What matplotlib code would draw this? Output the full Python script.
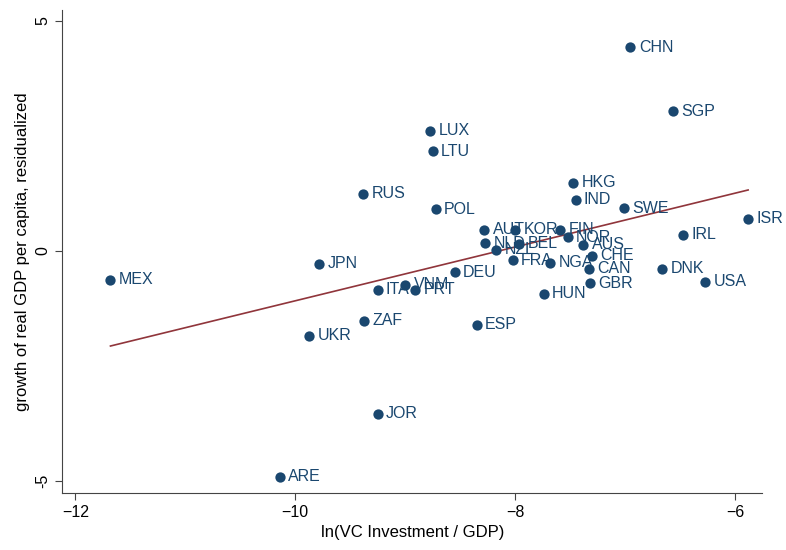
import numpy as np
import matplotlib
matplotlib.use("Agg")
import matplotlib.pyplot as plt

# country codes, ln(VC/GDP), residualized growth
countries = ["CHN", "SGP", "LUX", "LTU", "RUS", "POL", "HKG", "IND", "SWE", "ISR",
             "IRL", "MEX", "JPN", "DEU", "ITA", "VNM", "PRT", "ZAF", "UKR", "ESP",
             "JOR", "ARE", "HUN", "GBR", "CAN", "CHE", "AUS", "NOR", "FIN", "DNK",
             "USA", "AUT", "NLD", "NZL", "KOR", "BEL", "FRA", "NGA"]
vc_gdp = [-6.95, -6.56, -8.77, -8.75, -9.38, -8.72, -7.47, -7.45, -7.01, -5.88,
          -6.47, -11.68, -9.78, -8.55, -9.25, -9.00, -8.91, -9.37, -9.87, -8.35,
          -9.25, -10.14, -7.74, -7.32, -7.33, -7.30, -7.38, -7.52, -7.59, -6.66,
          -6.27, -8.28, -8.27, -8.17, -8.00, -7.96, -8.02, -7.68]
growth = [4.43, 3.04, 2.61, 2.17, 1.24, 0.91, 1.48, 1.11, 0.93, 0.70,
          0.35, -0.63, -0.28, -0.46, -0.85, -0.74, -0.85, -1.52, -1.85, -1.61,
          -3.54, -4.91, -0.93, -0.70, -0.39, -0.11, 0.13, 0.30, 0.46, -0.39,
          -0.67, 0.46, 0.17, 0.03, 0.46, 0.16, -0.20, -0.26]

navy = "#1a476f"
maroon = "#90353b"

plt.rcParams["font.family"] = ["Liberation Sans", "DejaVu Sans"]

fig = plt.figure(figsize=(7.86, 5.5), dpi=100)
ax = fig.add_axes([0.079, 0.104, 0.891, 0.878])

x = np.array(vc_gdp)
y = np.array(growth)
ax.scatter(x, y, s=55, color=navy, zorder=3, linewidths=0)
for c, xi, yi in zip(countries, x, y):
    ax.annotate(c, (xi, yi), xytext=(6, 0), textcoords="offset points",
                va="center", ha="left", fontsize=11.5, color=navy, zorder=4)

# linear fit
b, a = np.polyfit(x, y, 1)
xs = np.array([x.min(), x.max()])
ax.plot(xs, a + b * xs, color=maroon, lw=1.2, zorder=2)

ax.set_xlim(-12.12, -5.75)
ax.set_ylim(-5.26, 5.24)
ax.set_xticks([-12, -10, -8, -6])
ax.set_yticks([-5, 0, 5])
ax.set_yticklabels(["-5", "0", "5"], rotation=90, va="center")
ax.tick_params(labelsize=11.5, length=5, color="#444444")
for s in ["top", "right"]:
    ax.spines[s].set_visible(False)
for s in ["left", "bottom"]:
    ax.spines[s].set_color("#444444")
ax.set_xlabel("ln(VC Investment / GDP)", fontsize=12)
ax.set_ylabel("growth of real GDP per capita, residualized", fontsize=12)

fig.savefig("out.png", dpi=100)
